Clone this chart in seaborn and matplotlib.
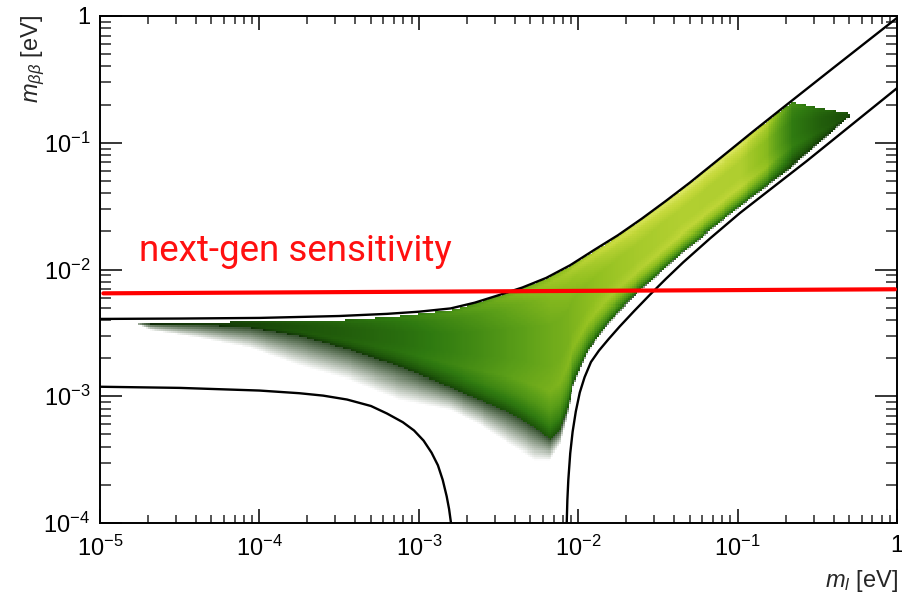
import numpy as np
import matplotlib
matplotlib.use("Agg")
import matplotlib.pyplot as plt
import seaborn as sns
from matplotlib.colors import LinearSegmentedColormap
from matplotlib.ticker import FixedLocator, LogLocator, NullFormatter, FuncFormatter

# ---------------- data (log10 values) ----------------
# upper envelope of m_bb vs lightest mass
upper_lx = [-5.0, -4.5, -4.0, -3.5, -3.2, -3.0, -2.8, -2.65, -2.5, -2.35, -2.2, -2.05,
            -1.9, -1.75, -1.6, -1.45, -1.3, -1.1, -0.9, -0.7, -0.4, 0.0]
upper_ly = [-2.390, -2.387, -2.382, -2.367, -2.350, -2.333, -2.307, -2.262, -2.203, -2.142,
            -2.066, -1.966, -1.846, -1.729, -1.598, -1.459, -1.315, -1.112, -0.908, -0.708,
            -0.410, -0.015]
# lower envelope, left branch
lowL_lx = [-5.0, -4.5, -4.0, -3.75, -3.6, -3.45, -3.3, -3.2, -3.1, -3.03, -2.97, -2.92,
           -2.88, -2.85, -2.825, -2.81, -2.798]
lowL_ly = [-2.925, -2.934, -2.955, -2.976, -2.995, -3.026, -3.077, -3.136, -3.205, -3.270,
           -3.350, -3.445, -3.545, -3.660, -3.790, -3.890, -4.0]
# lower envelope, right branch
lowR_lx = [-2.072, -2.068, -2.062, -2.050, -2.035, -2.015, -1.990, -1.960, -1.920, -1.870,
           -1.810, -1.740, -1.650, -1.550, -1.450, -1.341, -1.173, -0.985, -0.567, 0.019]
lowR_ly = [-4.0, -3.82, -3.66, -3.45, -3.28, -3.12, -2.97, -2.85, -2.73, -2.64,
           -2.55, -2.45, -2.329, -2.199, -2.074, -1.943, -1.755, -1.554, -1.145, -0.550]
# next-gen sensitivity line
sens_lx = [-4.979, -0.0125]
sens_ly = [-2.188, -2.156]
sens_label = "next-gen sensitivity"

# density region: column positions, top edge, dense bottom edge, sparse bottom edge, brightness
dens_lx = [-4.749, -4.686, -4.373, -4.059, -3.745, -3.432, -3.118, -2.804, -2.616, -2.428,
           -2.271, -2.177, -2.114, -2.070, -2.033, -1.939, -1.800, -1.631, -1.361, -0.985,
           -0.820, -0.659, -0.483, -0.307]
dens_top = [-2.420, -2.420, -2.415, -2.410, -2.405, -2.395, -2.365, -2.318, -2.258, -2.180,
            -2.110, -2.058, -2.015, -1.988, -1.960, -1.884, -1.774, -1.633, -1.380, -1.000,
            -0.835, -0.675, -0.726, -0.765]
dens_bot = [-2.420, -2.428, -2.436, -2.458, -2.525, -2.635, -2.769, -2.927, -3.030, -3.132,
            -3.251, -3.345, -3.266, -3.108, -2.911, -2.635, -2.398, -2.185, -1.878, -1.499,
            -1.340, -1.183, -0.994, -0.797]
dens_tail = [-2.436, -2.477, -2.540, -2.619, -2.761, -2.872, -3.030, -3.108, -3.227, -3.385,
             -3.503, -3.503, -3.385, -3.172, -2.935, -2.651, -2.414, -2.200, -1.890, -1.510,
             -1.352, -1.195, -1.005, -0.805]
dens_w = [0.03, 0.05, 0.10, 0.15, 0.22, 0.28, 0.35, 0.45, 0.52, 0.60,
          0.66, 0.70, 0.72, 0.74, 0.76, 0.81, 0.87, 0.92, 0.97, 0.96,
          0.80, 0.42, 0.28, 0.18]
# brightness profile with depth (0 = top edge, 1 = dense bottom edge)
prof_u = [0.0, 0.04, 0.12, 0.3, 0.55, 0.7, 0.82, 0.92, 1.0]
prof_v = [0.9, 1.0, 0.9, 0.8, 0.8, 0.85, 0.7, 0.5, 0.25]

x_ticks = [1e-5, 1e-4, 1e-3, 1e-2, 1e-1, 1]
y_ticks = [1e-4, 1e-3, 1e-2, 1e-1, 1]

# ---------------- style ----------------
sns.set_theme(style="ticks")
plt.rcParams["font.family"] = ["Liberation Sans", "DejaVu Sans"]
plt.rcParams["mathtext.fontset"] = "custom"
plt.rcParams["mathtext.rm"] = "Liberation Sans"
plt.rcParams["mathtext.it"] = "Liberation Sans:italic"
plt.rcParams["mathtext.bf"] = "Liberation Sans:bold"

fig = plt.figure(figsize=(9.03, 5.93), dpi=100)
ax = fig.add_axes([100 / 903, 70 / 593, 797 / 903, 507 / 593])
ax.set_xscale("log")
ax.set_yscale("log")
ax.set_xlim(1e-5, 1)
ax.set_ylim(1e-4, 1)

# ---------------- density cells ----------------
cmap = LinearSegmentedColormap.from_list(
    "grn",
    [(0.0, "#0d2607"), (0.17, "#1c5209"), (0.33, "#2f7a10"), (0.5, "#5a9e18"),
     (0.67, "#92c020"), (0.84, "#c4d83a"), (1.0, "#e2ea6a")])
gx = np.arange(-4.76, -0.29, 0.012)
gy = np.arange(-3.62, -0.58, 0.016)
cx = 0.5 * (gx[1:] + gx[:-1])
cy = 0.5 * (gy[1:] + gy[:-1])
T = np.interp(cx, dens_lx, dens_top)
D = np.interp(cx, dens_lx, dens_bot)
S = np.interp(cx, dens_lx, dens_tail)
W = np.interp(cx, dens_lx, dens_w)
YY = cy[:, None]
u = (T[None, :] - YY) / np.maximum(T - D, 1e-6)[None, :]
u2 = (D[None, :] - YY) / np.maximum(D - S, 1e-6)[None, :]
rgba = np.zeros((len(cy), len(cx), 4))
core = (YY <= T[None, :]) & (u <= 1)
val = W[None, :] * np.interp(u, prof_u, prof_v)
col = cmap(np.clip(val, 0, 1))
rgba[core] = col[core]
tail = (u > 1) & (u2 <= 1) & (YY <= T[None, :])
dark = np.array(matplotlib.colors.to_rgba("#12320a"))
rgba[tail] = dark
rgba[..., 3] = np.where(tail, 0.85 * (1 - np.clip(u2, 0, 1)), rgba[..., 3])
mesh = ax.pcolormesh(10 ** gx, 10 ** gy, np.zeros((len(cy), len(cx))),
                     shading="flat", zorder=1, linewidth=0, antialiased=False)
mesh.set_array(None)
mesh.set_facecolor(rgba.reshape(-1, 4))
mesh.set_edgecolor("none")

# ---------------- curves ----------------
for lx, ly in [(upper_lx, upper_ly), (lowL_lx, lowL_ly), (lowR_lx, lowR_ly)]:
    sns.lineplot(x=10 ** np.array(lx), y=10 ** np.array(ly), ax=ax, color="black",
                 linewidth=1.7, sort=False, estimator=None, zorder=3)
sns.lineplot(x=10 ** np.array(sens_lx), y=10 ** np.array(sens_ly), ax=ax, color="#ff0000",
             linewidth=3.0, sort=False, estimator=None, zorder=4)
ax.text(10 ** -4.755, 10 ** -1.933, sens_label, color="#ff1010", fontsize=26.5,
        family=["Roboto", "DejaVu Sans"], fontweight="normal", va="baseline", ha="left",
        zorder=5)

# ---------------- axes styling ----------------
for sp in ax.spines.values():
    sp.set_linewidth(1.4)
    sp.set_color("black")
    sp.set_visible(True)

def fmt(v, pos):
    if abs(v - 1) < 1e-9:
        return "1"
    return r"$10^{%d}$" % int(round(np.log10(v)))

for axis in (ax.xaxis, ax.yaxis):
    axis.set_major_locator(FixedLocator(x_ticks if axis is ax.xaxis else y_ticks))
    axis.set_minor_locator(LogLocator(base=10, subs=np.arange(2, 10)))
    axis.set_minor_formatter(NullFormatter())
    axis.set_major_formatter(FuncFormatter(fmt))

ax.tick_params(axis="x", which="major", direction="in", length=10, width=1.1,
               top=True, bottom=True, labelsize=17, pad=9, colors="black")
ax.tick_params(axis="x", which="minor", direction="in", length=5.8, width=1.1,
               top=True, bottom=True)
ax.tick_params(axis="y", which="major", direction="in", length=16, width=1.1,
               left=True, right=True, labelsize=17, pad=7, colors="black")
ax.tick_params(axis="y", which="minor", direction="in", length=8, width=1.1,
               left=True, right=True)

ax.set_ylabel(r"$m_{\beta\beta}$ [eV]", fontsize=17, loc="top")
ax.yaxis.set_label_coords(-0.0665, 1.002)
ax.set_xlabel(r"$m_{l}$ [eV]", fontsize=17, loc="right")
ax.xaxis.set_label_coords(1.001, -0.089)

fig.savefig("out.png", dpi=100)
